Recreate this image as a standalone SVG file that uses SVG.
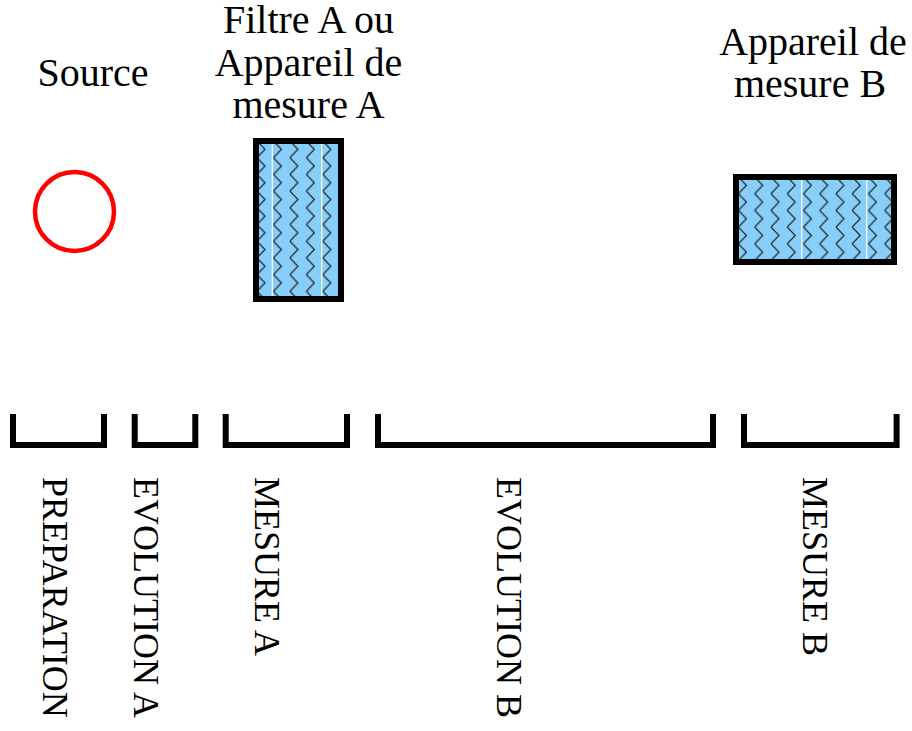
<svg xmlns="http://www.w3.org/2000/svg" width="912" height="731" viewBox="0 0 912 731">
  <style>
    .lbl { font-family: "Liberation Serif", "Times New Roman", serif; font-size: 40px; fill: #000; text-anchor: middle; }
    .vlbl { font-family: "Liberation Serif", "Times New Roman", serif; font-size: 36px; fill: #000; }
    .box { stroke: #000; stroke-width: 6; }
    .seam { stroke: #fff; stroke-width: 1.2; }
    .brk { fill: none; stroke: #000; stroke-width: 6; stroke-linejoin: miter; }
  </style>
  <defs>
    <pattern id="zigA" patternUnits="userSpaceOnUse" x="272.5" y="141" width="16.45" height="16.7">
      <rect width="16.45" height="16.7" fill="#87CEFA"/>
      <polyline points="1,0 9,8.35 1,16.7" fill="none" stroke="#1a1a1a" stroke-width="1.1"/>
    </pattern>
    <pattern id="zigB" patternUnits="userSpaceOnUse" x="737.5" y="177" width="16.25" height="16.7">
      <rect width="16.25" height="16.7" fill="#87CEFA"/>
      <polyline points="1,0 9,8.35 1,16.7" fill="none" stroke="#1a1a1a" stroke-width="1.1"/>
    </pattern>
  </defs>

  <g id="source">
    <text class="lbl" x="93" y="86">Source</text>
    <circle cx="74.5" cy="211.5" r="39.5" fill="none" stroke="#ff0000" stroke-width="4.5"/>
  </g>

  <g id="filtreA">
    <text class="lbl" x="308.5" y="33">Filtre A ou</text>
    <text class="lbl" x="308.5" y="76">Appareil de</text>
    <text class="lbl" x="308.5" y="118">mesure A</text>
    <rect x="256" y="141" width="85" height="158" fill="url(#zigA)" class="box"/>
    <line class="seam" x1="272.3" y1="144" x2="272.3" y2="296"/>
    <line class="seam" x1="321.7" y1="144" x2="321.7" y2="296"/>
  </g>

  <g id="appareilB">
    <text class="lbl" x="813" y="55">Appareil de</text>
    <text class="lbl" x="810" y="97">mesure B</text>
    <rect x="736" y="177" width="158" height="85" fill="url(#zigB)" class="box"/>
    <line class="seam" x1="801.7" y1="180" x2="801.7" y2="259"/>
    <line class="seam" x1="866.7" y1="180" x2="866.7" y2="259"/>
  </g>

  <g id="connectors">
    <path class="brk" d="M13,414 V445 H104 V414"/>
    <path class="brk" d="M134.7,414 V445 H195.3 V414"/>
    <path class="brk" d="M225.7,414 V445 H347 V414"/>
    <path class="brk" d="M378,414 V445 H713 V414"/>
    <path class="brk" d="M744,414 V445 H896.6 V414"/>
  </g>

  <g id="phases">
    <text class="vlbl" transform="translate(43,477) rotate(90)">PREPARATION</text>
    <text class="vlbl" transform="translate(134,477) rotate(90)">EVOLUTION A</text>
    <text class="vlbl" transform="translate(255,477) rotate(90)">MESURE A</text>
    <text class="vlbl" transform="translate(497,477) rotate(90)">EVOLUTION B</text>
    <text class="vlbl" transform="translate(803,477) rotate(90)">MESURE B</text>
  </g>
</svg>
